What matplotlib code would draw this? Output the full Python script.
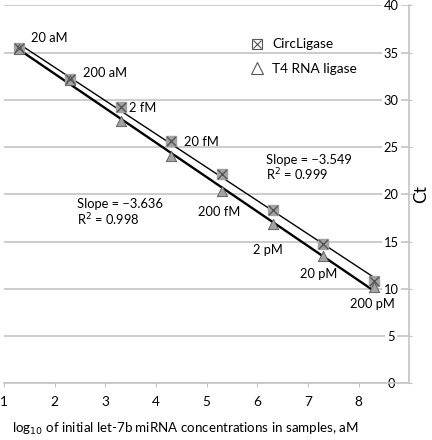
import numpy as np
from matplotlib import pyplot as plt
from matplotlib.lines import Line2D
from matplotlib.legend_handler import HandlerTuple

plt.rcParams['font.family'] = ['Lato', 'DejaVu Sans']

# log10 of initial concentration (aM)
logConc = [1.3, 2.3, 3.3, 4.3, 5.3, 6.3, 7.3, 8.3]
concLabels = ['20 aM', '200 aM', '2 fM', '20 fM', '200 fM', '2 pM', '20 pM', '200 pM']
ctCircLigase = [35.5, 32.2, 29.2, 25.6, 22.1, 18.3, 14.7, 10.85]
ctT4 = [35.4, 32.1, 27.8, 24.1, 20.4, 16.9, 13.5, 10.15]
# label anchors (left edge, vertical centre) in data coords
labelX = [1.53, 2.55, 3.47, 4.55, 4.82, 5.91, 6.84, 7.82]
labelY = [36.5, 32.8, 29.1, 25.5, 18.1, 14.1, 11.6, 8.4]
yTicks = [0, 5, 10, 15, 20, 25, 30, 35, 40]
xTicks = [1, 2, 3, 4, 5, 6, 7, 8]

GRID = '#c4c4c4'
MARK_FACE = '#a3a3a3'
MARK_EDGE = '#555555'
FS = 9.3

fig = plt.figure(figsize=(4.32, 4.40), dpi=100)
ax = fig.add_axes([0.0093, 0.1289, 0.9382, 0.8591])
ax.set_xlim(1, 9)
ax.set_ylim(0, 40)

# regression lines fitted from the points
x = np.array(logConc)
for yVals, lw in ((ctCircLigase, 1.0), (ctT4, 1.7)):
    k, b = np.polyfit(x, yVals, 1)
    ax.plot([x[0], x[-1]], [k * x[0] + b, k * x[-1] + b], color='black', lw=lw, zorder=3)

ax.scatter(logConc, ctCircLigase, marker='s', s=45, facecolor=MARK_FACE, edgecolor=MARK_FACE, zorder=4)
ax.scatter(logConc, ctCircLigase, marker='x', s=45, color=MARK_EDGE, lw=1.0, zorder=5)
ax.scatter(logConc, ctT4, marker='^', s=55, facecolor=MARK_FACE, edgecolor=MARK_EDGE, lw=0.6, zorder=4)

for lx, ly, txt in zip(labelX, labelY, concLabels):
    ax.text(lx, ly, txt, fontsize=FS, ha='left', va='center', zorder=6)

ax.text(2.44, 18.97, 'Slope = \u22123.636', fontsize=FS, ha='left', va='center')
ax.text(2.44, 17.28, 'R$^2$ = 0.998', fontsize=FS, ha='left', va='center')
ax.text(6.17, 23.63, 'Slope = \u22123.549', fontsize=FS, ha='left', va='center')
ax.text(6.17, 22.04, 'R$^2$ = 0.999', fontsize=FS, ha='left', va='center')

# legend with outline markers
sqH = Line2D([], [], marker='s', ls='', ms=7, mfc='white', mec=MARK_EDGE, mew=0.8)
xH = Line2D([], [], marker='x', ls='', ms=6, color=MARK_EDGE, mew=0.8)
triH = Line2D([], [], marker='^', ls='', ms=8, mfc='white', mec=MARK_EDGE, mew=0.8)
ax.legend([(sqH, xH), triH], ['CircLigase', 'T4 RNA ligase'],
          handler_map={tuple: HandlerTuple(ndivide=1, pad=0)},
          loc='upper left', bbox_to_anchor=(0.577, 0.945), frameon=False,
          fontsize=9.8, handlelength=1.0, handletextpad=0.6, labelspacing=0.95)

# axes styling
ax.set_yticks(yTicks)
ax.set_xticks(xTicks)
for side in ('top', 'left'):
    ax.spines[side].set_visible(False)
for side in ('bottom', 'right'):
    ax.spines[side].set_color(GRID)
    ax.spines[side].set_linewidth(1.2)
ax.tick_params(axis='y', left=False, labelleft=False, right=True, labelright=True,
               direction='out', length=2, color=GRID, pad=-15, labelsize=9.3)
ax.tick_params(axis='x', direction='out', length=3, color=GRID, pad=6, labelsize=9.8)
ax.grid(axis='y', color=GRID, lw=1.2)
ax.set_axisbelow(True)
for tick in ax.yaxis.get_major_ticks():
    tick.label2.set_horizontalalignment('center')
    tick.label2.set_bbox(dict(facecolor='white', edgecolor='none', pad=1.5))

ax.text(1.03, 0.5, 'Ct', transform=ax.transAxes, fontsize=12.5, rotation=90,
        ha='center', va='center')
ax.set_xlabel('log$_{10}$ of initial let-7b miRNA concentrations in samples, aM',
              fontsize=9.6)
ax.xaxis.set_label_coords(0.448, -0.10)

fig.savefig('out.png', dpi=100)
